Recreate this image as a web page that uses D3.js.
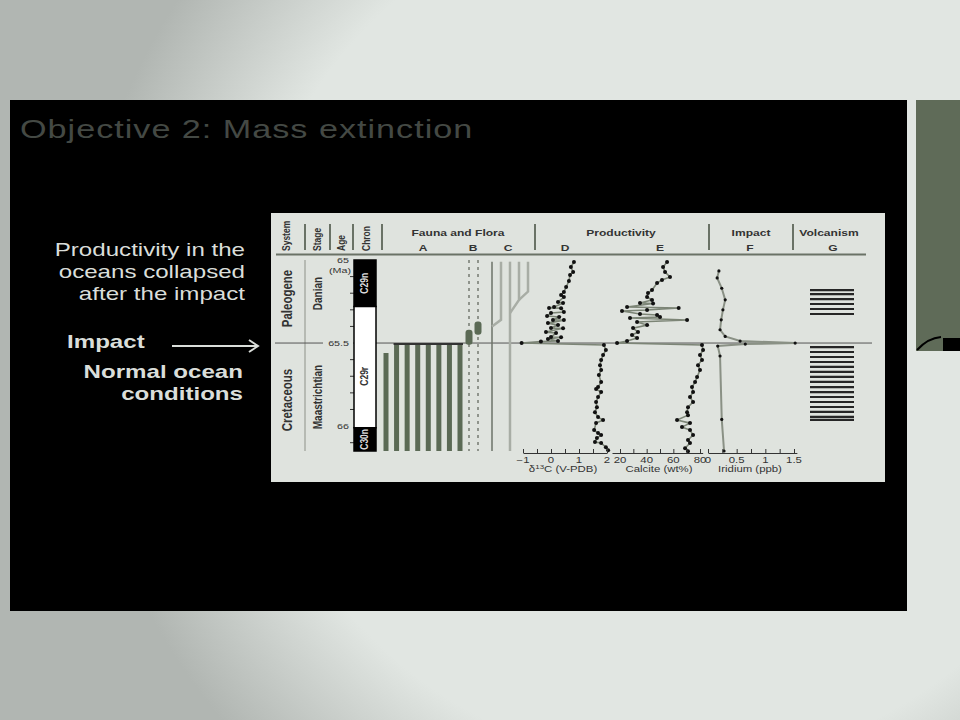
<!DOCTYPE html>
<html><head><meta charset="utf-8">
<script src="https://cdn.jsdelivr.net/npm/d3@7"></script>
<style>body{margin:0;background:#e0e5e1;overflow:hidden}</style>
</head><body><svg id="c" width="960" height="720"></svg>
<script>
// ---------------- data ----------------
const titleText = "Objective 2: Mass extinction";
const noteLines = ["Productivity in the", "oceans collapsed", "after the impact"];
const impactLabel = "Impact";
const normalLines = ["Normal ocean", "conditions"];

const headerCols = ["System", "Stage", "Age", "Chron"];
const groupTitles = ["Fauna and Flora", "Productivity", "Impact", "Volcanism"];
const colLetters = ["A", "B", "C", "D", "E", "F", "G"];

const systems = [{name: "Paleogene", top: 65.0, base: 65.5}, {name: "Cretaceous", top: 65.5, base: 66.15}];
const stages = [{name: "Danian", top: 65.0, base: 65.5}, {name: "Maastrichtian", top: 65.5, base: 66.15}];
const chrons = [
  {name: "C29n", top: 65.0, base: 65.28, normal: true},
  {name: "C29r", top: 65.28, base: 66.01, normal: false},
  {name: "C30n", top: 66.01, base: 66.15, normal: true}
];
const ageDomain = [65.0, 66.15];
const ageLabels = ["65", "65.5", "66"];
const ageLabelValues = [65.0, 65.5, 66.0];
const ageMinorTicks = [65.1, 65.2, 65.3, 65.4, 65.6, 65.7, 65.8, 65.9, 66.1];
const boundaryAge = 65.5;

// Fauna A: last occurrences (tops) of 8 taxa, all ranging to the base
const faunaATops = [65.56, 65.5, 65.5, 65.5, 65.5, 65.5, 65.5, 65.5];
// Fauna B: two survivor taxa, with abundance blooms
const faunaBBlooms = [{top: 65.42, base: 65.51}, {top: 65.37, base: 65.45}];
// Flora C: lineages (slot, top, base, branch-from slot, branch age)
const floraC = [
  {slot: 0, top: 65.01, base: 66.15, main: true},
  {slot: 1, top: 65.01, base: 65.36, from: 0, at: 65.40},
  {slot: 2, top: 65.01, base: 66.15},
  {slot: 3, top: 65.01, base: 65.24, from: 2, at: 65.32},
  {slot: 4, top: 65.01, base: 65.19, from: 3, at: 65.24}
];

// D: delta13C (per mil V-PDB)
const d13cAge = [65.012,65.042,65.072,65.090,65.127,65.163,65.193,65.211,65.223,65.253,65.259,65.283,65.289,65.290,65.313,65.319,65.337,65.343,65.361,65.362,65.380,65.392,65.410,65.411,65.434,65.440,65.464,65.465,65.476,65.488,65.491,65.500,
  65.512,65.542,65.572,65.602,65.633,65.663,65.693,65.735,65.765,65.777,65.795,65.825,65.855,65.886,65.916,65.946,65.964,65.982,66.024,66.042,66.054,66.072,66.096,66.102,66.127,66.145];
const d13cVal = [0.82,0.71,0.79,0.68,0.64,0.54,0.46,0.36,0.46,0.25,0.43,0.11,-0.07,0.36,0.46,0.0,-0.14,0.29,0.07,0.46,-0.11,0.25,0.0,0.43,-0.18,0.18,0.0,0.36,-0.11,0.25,-0.36,-1.05,
  1.89,1.96,1.86,1.79,1.75,1.79,1.71,1.79,1.68,1.61,1.79,1.68,1.61,1.64,1.57,1.68,1.86,1.61,1.54,1.68,1.79,1.64,1.57,1.79,1.96,2.04];
const d13cTicks = [-1, 0, 1, 2];
const d13cMinor = [-0.5, 0.5, 1.5];

// E: calcite (wt%)
const calciteAge = [65.012,65.042,65.072,65.102,65.120,65.139,65.181,65.199,65.223,65.241,65.259,65.262,65.283,65.289,65.301,65.307,65.325,65.331,65.343,65.349,65.361,65.373,65.392,65.410,65.434,65.452,65.470,65.488,65.500,
  65.512,65.542,65.572,65.602,65.633,65.663,65.705,65.735,65.765,65.795,65.825,65.855,65.886,65.916,65.934,65.964,65.982,66.006,66.024,66.054,66.084,66.102,66.133,66.151];
const calciteVal = [55.3,52.3,53.8,57.5,51.5,47.8,44.0,41.0,40.3,44.0,35.0,44.8,25.3,64.0,40.3,21.5,35.0,47.8,50.0,27.5,70.3,32.8,40.3,29.8,33.5,29.0,32.8,25.3,17.8,
  81.5,82.3,80.0,81.5,78.5,80.0,77.8,76.3,74.0,74.8,72.5,74.8,71.0,70.3,71.0,62.8,72.5,66.5,72.5,74.8,71.0,72.5,68.8,71.0];
const calciteTicks = [20, 40, 60, 80];
const calciteMinor = [30, 50, 70];

// F: iridium (ppb)
const iridiumAge = [65.066,65.108,65.170,65.240,65.300,65.360,65.420,65.460,65.488,65.500,65.506,65.518,65.578,65.960,66.150];
const iridiumVal = [0.19,0.16,0.24,0.30,0.26,0.23,0.21,0.30,0.56,1.52,0.65,0.17,0.21,0.24,0.28];
const iridiumTicks = [0, 0.5, 1, 1.5];
const iridiumMinor = [0.25, 0.75, 1.25];

// G: volcanism (lava flow levels)
const volcanismAges = [65.181,65.205,65.235,65.265,65.295,65.325,
  65.524,65.554,65.584,65.614,65.644,65.674,65.704,65.734,65.765,65.795,65.825,65.855,65.885,65.915,65.945,65.963];

// ---------------- drawing ----------------
const SX = 1.34; // the slide is stretched horizontally
const FONT = "Liberation Sans, Arial, sans-serif";
const svg = d3.select("#c").attr("font-family", FONT);
const defs = svg.append("defs");
const rg = defs.append("radialGradient").attr("id", "bg").attr("gradientUnits", "userSpaceOnUse")
  .attr("cx", 680).attr("cy", 330).attr("r", 640);
rg.append("stop").attr("offset", 0.68).attr("stop-color", "#e1e6e2");
rg.append("stop").attr("offset", 0.94).attr("stop-color", "#b1b6b2");
svg.append("rect").attr("width", 960).attr("height", 720).attr("fill", "url(#bg)");

// text helper: horizontally stretched text
function stext(parent, x, y, txt, o = {}) {
  return parent.append("text")
    .attr("transform", `translate(${x},${y}) scale(${SX},1)${o.rot ? " rotate(-90)" : ""}`)
    .attr("text-anchor", o.anchor || "start")
    .attr("font-size", o.size || 9.3)
    .attr("font-weight", o.bold ? "bold" : null)
    .attr("fill", o.fill || "#333")
    .text(txt);
}

// right side thumbnail
svg.append("rect").attr("x", 916).attr("y", 100).attr("width", 44).attr("height", 251).attr("fill", "#5f6b58");
svg.append("path").attr("d", "M917,350 Q928,338 941,337").attr("fill", "none").attr("stroke", "#000").attr("stroke-width", 2);
svg.append("rect").attr("x", 943).attr("y", 338).attr("width", 17).attr("height", 13).attr("fill", "#000");

// black panel
svg.append("rect").attr("x", 10).attr("y", 100).attr("width", 897).attr("height", 511).attr("fill", "#000");

stext(svg, 20, 138, titleText, {size: 25.5, fill: "#444944"}).attr("letter-spacing", 0.75);

const lc = "#dadeda";
noteLines.forEach((d, i) => stext(svg, 245, 256 + i * 22, d, {size: 18, anchor: "end", fill: lc}));
stext(svg, 67, 348, impactLabel, {size: 18, bold: true, fill: lc});
normalLines.forEach((d, i) => stext(svg, 243, 378 + i * 22, d, {size: 18, anchor: "end", bold: true, fill: lc}));
svg.append("line").attr("x1", 172).attr("x2", 257).attr("y1", 346).attr("y2", 346).attr("stroke", lc).attr("stroke-width", 2);
svg.append("path").attr("d", "M249,340 L258,346 L249,352").attr("fill", "none").attr("stroke", lc).attr("stroke-width", 2);

// chart box
const ch = svg.append("g");
ch.append("rect").attr("x", 271).attr("y", 213).attr("width", 614).attr("height", 269).attr("fill", "#dfe3de");

const y = d3.scaleLinear().domain(ageDomain).range([260, 451]);
const dark = "#5b6a55", grey = "#a8ada5";

// header
const hx = [290, 321, 345, 370];
headerCols.forEach((d, i) => stext(ch, hx[i], 251, d, {rot: true, bold: true, size: 8.5}));
const sepX = [305, 330, 353, 382, 535, 709, 793];
ch.selectAll("line.sep").data(sepX).join("line").attr("class", "sep")
  .attr("x1", d => d).attr("x2", d => d).attr("y1", 224).attr("y2", 250)
  .attr("stroke", "#6a7266").attr("stroke-width", 2);
const gx = [458, 621, 751, 829];
groupTitles.forEach((d, i) => stext(ch, gx[i], 236, d, {anchor: "middle", bold: true, size: 9}));
const lx = [423, 473, 508, 565, 660, 750, 833];
colLetters.forEach((d, i) => stext(ch, lx[i], 251, d, {anchor: "middle", bold: true, size: 9}));
ch.append("line").attr("x1", 276).attr("x2", 866).attr("y1", 254.5).attr("y2", 254.5).attr("stroke", "#6a7266").attr("stroke-width", 2);

// system / stage
ch.append("line").attr("x1", 305).attr("x2", 305).attr("y1", y(65.0)).attr("y2", y(66.15)).attr("stroke", grey).attr("stroke-width", 1.5);
systems.forEach(d => stext(ch, 292, (y(d.top) + y(d.base)) / 2 + (d.top < 65.5 ? -3 : 3), d.name,
  {rot: true, anchor: "middle", bold: true, size: 11.5}));
stages.forEach(d => stext(ch, 322, (y(d.top) + y(d.base)) / 2 + (d.top < 65.5 ? -8 : 0), d.name,
  {rot: true, anchor: "middle", bold: true, size: 10}));

// boundary line
ch.append("line").attr("x1", 275).attr("x2", 323).attr("y1", y(boundaryAge)).attr("y2", y(boundaryAge)).attr("stroke", "#555");
ch.append("line").attr("x1", 353).attr("x2", 872).attr("y1", y(boundaryAge)).attr("y2", y(boundaryAge)).attr("stroke", "#555");

// age axis
ageLabels.forEach((t, i) => stext(ch, 349, y(ageLabelValues[i]) + 3, t, {anchor: "end", size: 8}));
stext(ch, 351, y(65.0) + 13, "(Ma)", {anchor: "end", size: 8});
ch.selectAll("line.at").data(ageMinorTicks).join("line").attr("class", "at")
  .attr("x1", 350).attr("x2", 355).attr("y1", d => y(d)).attr("y2", d => y(d)).attr("stroke", "#333");

// chron column
ch.selectAll("rect.chron").data(chrons).join("rect").attr("class", "chron")
  .attr("x", 354).attr("width", 22).attr("y", d => y(d.top)).attr("height", d => y(d.base) - y(d.top))
  .attr("fill", d => d.normal ? "#000" : "#fff").attr("stroke", "#000").attr("stroke-width", 1.5);
chrons.forEach(d => {
  const cy = d.name === "C29r" ? y(65.7) : d.name === "C29n" ? y(65.14) : (y(d.top) + y(d.base)) / 2;
  stext(ch, 368, cy, d.name, {rot: true, anchor: "middle", bold: true, size: 8.5, fill: d.normal ? "#ddd" : "#333"});
});

// Fauna A
const xA = d3.scalePoint().domain(d3.range(faunaATops.length)).range([386, 460]);
ch.selectAll("rect.fa").data(faunaATops).join("rect").attr("class", "fa")
  .attr("x", (d, i) => xA(i) - 2.5).attr("width", 5).attr("y", d => y(d)).attr("height", d => y(ageDomain[1]) - y(d))
  .attr("fill", dark);
ch.append("line").attr("x1", xA(1) - 3).attr("x2", xA(faunaATops.length - 1) + 3).attr("y1", y(65.5) + 1).attr("y2", y(65.5) + 1)
  .attr("stroke", "#333").attr("stroke-width", 2);

// Fauna B
const xB = d3.scalePoint().domain(d3.range(faunaBBlooms.length)).range([469, 478]);
ch.selectAll("line.fb").data(faunaBBlooms).join("line").attr("class", "fb")
  .attr("x1", (d, i) => xB(i)).attr("x2", (d, i) => xB(i)).attr("y1", y(65.0)).attr("y2", y(ageDomain[1]))
  .attr("stroke", "#8f948c").attr("stroke-width", 2).attr("stroke-dasharray", "3,4");
ch.selectAll("rect.fbb").data(faunaBBlooms).join("rect").attr("class", "fbb")
  .attr("x", (d, i) => xB(i) - 3.5).attr("width", 7).attr("y", d => y(d.top)).attr("height", d => y(d.base) - y(d.top))
  .attr("rx", 3).attr("fill", dark);

// Flora C
const xC = d3.scalePoint().domain(d3.range(floraC.length)).range([492, 528]);
ch.selectAll("path.fc").data(floraC).join("path").attr("class", "fc")
  .attr("d", d => {
    let p = `M${xC(d.slot)},${y(d.top)}L${xC(d.slot)},${y(d.base)}`;
    if (d.from !== undefined) p += `L${xC(d.from)},${y(d.at)}`;
    return p;
  })
  .attr("fill", "none").attr("stroke", d => d.main ? "#6d7369" : grey).attr("stroke-width", d => d.main ? 1.5 : 2.5);

// series helper
function series(xs, ages, vals, opts) {
  const pts = ages.map((a, i) => [xs(vals[i]), y(a)]);
  ch.append("path").attr("d", d3.line()(pts)).attr("fill", "none")
    .attr("stroke", opts.stroke).attr("stroke-width", opts.sw);
  ch.append("g").selectAll("circle").data(pts).join("circle")
    .attr("cx", d => d[0]).attr("cy", d => d[1]).attr("r", opts.r).attr("fill", "#111");
}
function axis(xs, ticks, minor, dom, fmt) {
  const g = ch.append("g").attr("transform", "translate(0,453)");
  g.call(d3.axisBottom(d3.scaleLinear().domain(dom).range(dom.map(xs))).tickValues(ticks.concat(minor))
    .tickSizeInner(-4).tickSizeOuter(0).tickFormat(""));
  g.select(".domain").attr("stroke", "#333");
  g.selectAll(".tick line").attr("stroke", "#333");
  ticks.forEach(t => stext(ch, xs(t), 463, fmt(t), {anchor: "middle", size: 8.5}));
}

const xD = d3.scaleLinear().domain([-1, 2]).range([523, 607]);
const xE = d3.scaleLinear().domain([20, 80]).range([620, 700]);
const xF = d3.scaleLinear().domain([0, 1.5]).range([708, 794]);

series(xD, d13cAge, d13cVal, {stroke: "#7c8576", sw: 1.6, r: 2});
series(xE, calciteAge, calciteVal, {stroke: "#7c8576", sw: 1.6, r: 2});
series(xF, iridiumAge, iridiumVal, {stroke: "#8a9185", sw: 2, r: 1.6});

axis(xD, d13cTicks, d13cMinor, [-1, 2], d => d < 0 ? "\u2212" + Math.abs(d) : String(d));
axis(xE, calciteTicks, calciteMinor, [14, 82], d => String(d));
axis(xF, iridiumTicks, iridiumMinor, [0, 1.55], d => String(d));

const t1 = stext(ch, 563, 472, "", {anchor: "middle", size: 8.5});
t1.append("tspan").text("\u03b4");
t1.append("tspan").attr("dy", -3).attr("font-size", 6).text("13");
t1.append("tspan").attr("dy", 3).text("C (V-PDB)");
stext(ch, 659, 472, "Calcite (wt%)", {anchor: "middle", size: 8.5});
stext(ch, 750, 472, "Iridium (ppb)", {anchor: "middle", size: 8.5});

// Volcanism G
ch.selectAll("line.vg").data(volcanismAges).join("line").attr("class", "vg")
  .attr("x1", 810).attr("x2", 854).attr("y1", d => y(d)).attr("y2", d => y(d))
  .attr("stroke", "#262626").attr("stroke-width", 2.2);
</script></body></html>
